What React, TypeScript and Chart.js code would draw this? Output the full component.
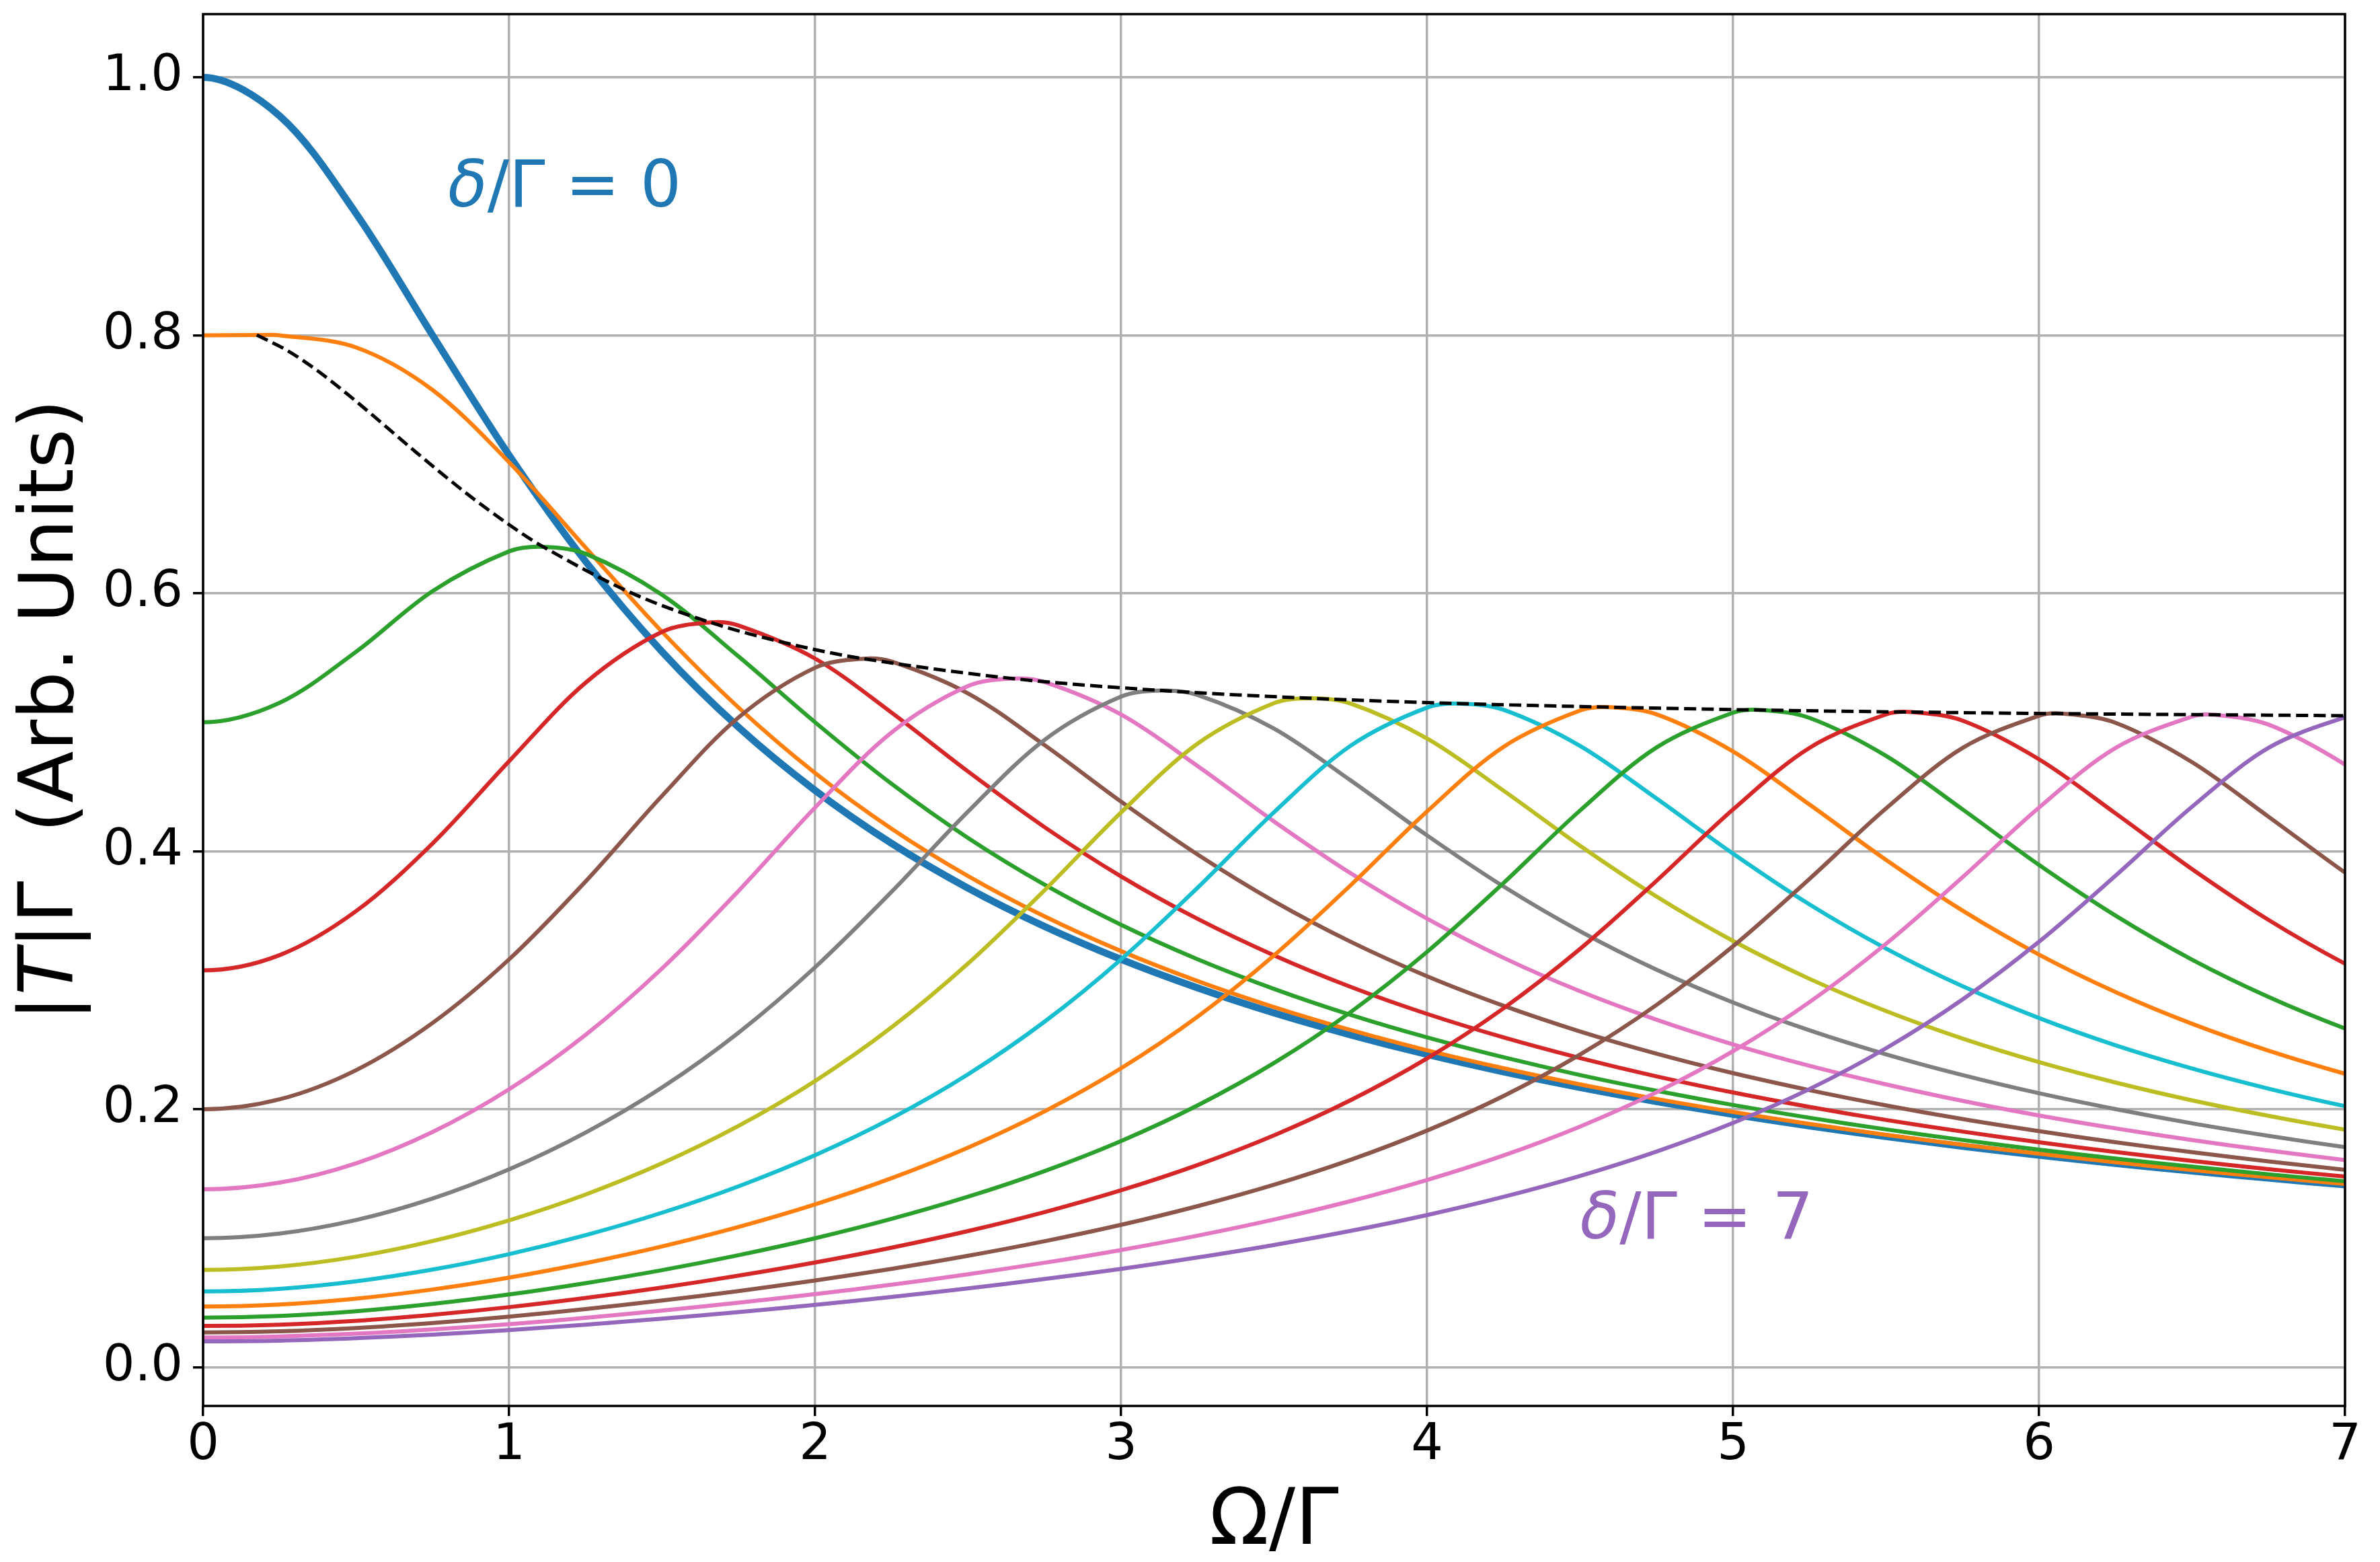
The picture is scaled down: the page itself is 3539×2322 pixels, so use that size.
import React, { useEffect, useRef } from "react";
import { Chart, registerables } from "chart.js";

Chart.register(...registerables);

const W = 3539;
const H = 2322;
const FONT = '"DejaVu Sans", "Liberation Sans", sans-serif';

// Ω/Γ sample grid (one step beyond each edge so the curves enter and leave the frame smoothly;
// the curves are even in Ω, so the -0.25 value equals the +0.25 value)
const OMEGA = [-0.25, 0, 0.25, 0.5, 0.75, 1, 1.25, 1.5, 1.75, 2, 2.25, 2.5, 2.75, 3, 3.25, 3.5, 3.75, 4, 4.25, 4.5, 4.75, 5, 5.25, 5.5, 5.75, 6, 6.25, 6.5, 6.75, 7, 7.25];

const X_TICKS = [0, 1, 2, 3, 4, 5, 6, 7];
const Y_TICKS = [0, 0.2, 0.4, 0.6, 0.8, 1.0];

// δ/Γ of each curve
const DELTAS = [0, 0.5, 1, 1.5, 2, 2.5, 3, 3.5, 4, 4.5, 5, 5.5, 6, 6.5, 7];
const COLORS = ["#1f77b4", "#ff7f0e", "#2ca02c", "#d62728", "#8c564b", "#e377c2", "#7f7f7f", "#bcbd22", "#17becf", "#ff7f0e", "#2ca02c", "#d62728", "#8c564b", "#e377c2", "#9467bd"];

// |T|Γ values on the OMEGA grid, one array per δ/Γ
const D0_0 = [0.9701, 1.0000, 0.9701, 0.8944, 0.8000, 0.7071, 0.6247, 0.5547, 0.4961, 0.4472, 0.4061, 0.3714, 0.3417, 0.3162, 0.2941, 0.2747, 0.2577, 0.2425, 0.2290, 0.2169, 0.2060, 0.1961, 0.1871, 0.1789, 0.1713, 0.1644, 0.1580, 0.1521, 0.1466, 0.1414, 0.1366];
const D0_5 = [0.8000, 0.8000, 0.8000, 0.7906, 0.7576, 0.7016, 0.6354, 0.5701, 0.5114, 0.4607, 0.4175, 0.3808, 0.3495, 0.3226, 0.2994, 0.2792, 0.2614, 0.2457, 0.2318, 0.2193, 0.2080, 0.1979, 0.1886, 0.1802, 0.1725, 0.1655, 0.1589, 0.1529, 0.1473, 0.1421, 0.1373];
const D1_0 = [0.5151, 0.5000, 0.5151, 0.5547, 0.6017, 0.6325, 0.6307, 0.5988, 0.5510, 0.5000, 0.4523, 0.4103, 0.3741, 0.3430, 0.3163, 0.2933, 0.2732, 0.2557, 0.2403, 0.2265, 0.2143, 0.2033, 0.1934, 0.1844, 0.1762, 0.1687, 0.1618, 0.1555, 0.1496, 0.1442, 0.1391];
const D1_5 = [0.3195, 0.3077, 0.3195, 0.3536, 0.4061, 0.4698, 0.5307, 0.5701, 0.5750, 0.5494, 0.5075, 0.4618, 0.4187, 0.3805, 0.3476, 0.3193, 0.2949, 0.2739, 0.2557, 0.2397, 0.2255, 0.2130, 0.2018, 0.1917, 0.1827, 0.1744, 0.1669, 0.1600, 0.1536, 0.1478, 0.1424];
const D2_0 = [0.2077, 0.2000, 0.2077, 0.2303, 0.2669, 0.3162, 0.3766, 0.4430, 0.5038, 0.5423, 0.5471, 0.5224, 0.4823, 0.4385, 0.3975, 0.3612, 0.3299, 0.3031, 0.2802, 0.2603, 0.2431, 0.2280, 0.2148, 0.2030, 0.1924, 0.1830, 0.1744, 0.1667, 0.1596, 0.1531, 0.1472];
const D2_5 = [0.1431, 0.1379, 0.1431, 0.1581, 0.1824, 0.2155, 0.2577, 0.3092, 0.3693, 0.4339, 0.4921, 0.5281, 0.5312, 0.5060, 0.4661, 0.4231, 0.3830, 0.3478, 0.3174, 0.2915, 0.2694, 0.2503, 0.2337, 0.2193, 0.2065, 0.1952, 0.1852, 0.1761, 0.1680, 0.1606, 0.1538];
const D3_0 = [0.1036, 0.1000, 0.1036, 0.1141, 0.1308, 0.1534, 0.1819, 0.2169, 0.2594, 0.3101, 0.3686, 0.4308, 0.4864, 0.5199, 0.5212, 0.4951, 0.4550, 0.4123, 0.3727, 0.3380, 0.3082, 0.2828, 0.2612, 0.2426, 0.2265, 0.2124, 0.2001, 0.1891, 0.1794, 0.1706, 0.1628];
const D3_5 = [0.0781, 0.0755, 0.0781, 0.0857, 0.0978, 0.1139, 0.1339, 0.1581, 0.1871, 0.2219, 0.2635, 0.3130, 0.3698, 0.4301, 0.4834, 0.5148, 0.5145, 0.4874, 0.4470, 0.4043, 0.3649, 0.3305, 0.3011, 0.2761, 0.2548, 0.2365, 0.2207, 0.2069, 0.1949, 0.1842, 0.1747];
const D4_0 = [0.0608, 0.0588, 0.0608, 0.0666, 0.0757, 0.0877, 0.1024, 0.1198, 0.1403, 0.1644, 0.1930, 0.2271, 0.2679, 0.3162, 0.3717, 0.4303, 0.4818, 0.5114, 0.5097, 0.4817, 0.4409, 0.3982, 0.3588, 0.3246, 0.2954, 0.2707, 0.2496, 0.2316, 0.2160, 0.2024, 0.1906];
const D4_5 = [0.0486, 0.0471, 0.0486, 0.0532, 0.0603, 0.0695, 0.0807, 0.0937, 0.1088, 0.1263, 0.1466, 0.1703, 0.1984, 0.2318, 0.2718, 0.3193, 0.3736, 0.4309, 0.4810, 0.5091, 0.5062, 0.4774, 0.4362, 0.3933, 0.3540, 0.3199, 0.2909, 0.2663, 0.2454, 0.2275, 0.2121];
const D5_0 = [0.0397, 0.0385, 0.0397, 0.0434, 0.0491, 0.0564, 0.0652, 0.0753, 0.0869, 0.1000, 0.1150, 0.1322, 0.1521, 0.1754, 0.2030, 0.2359, 0.2753, 0.3220, 0.3754, 0.4316, 0.4805, 0.5074, 0.5034, 0.4740, 0.4325, 0.3894, 0.3501, 0.3160, 0.2871, 0.2626, 0.2418];
const D5_5 = [0.0330, 0.0320, 0.0330, 0.0360, 0.0407, 0.0466, 0.0537, 0.0618, 0.0710, 0.0812, 0.0927, 0.1056, 0.1203, 0.1372, 0.1568, 0.1798, 0.2070, 0.2394, 0.2783, 0.3243, 0.3771, 0.4324, 0.4802, 0.5061, 0.5013, 0.4713, 0.4294, 0.3862, 0.3468, 0.3128, 0.2839];
const D6_0 = [0.0279, 0.0270, 0.0279, 0.0304, 0.0343, 0.0392, 0.0451, 0.0517, 0.0591, 0.0673, 0.0763, 0.0864, 0.0977, 0.1104, 0.1249, 0.1415, 0.1608, 0.1835, 0.2103, 0.2424, 0.2809, 0.3264, 0.3786, 0.4332, 0.4801, 0.5051, 0.4996, 0.4691, 0.4268, 0.3835, 0.3441];
const D6_5 = [0.0239, 0.0231, 0.0239, 0.0260, 0.0293, 0.0334, 0.0383, 0.0439, 0.0500, 0.0567, 0.0640, 0.0721, 0.0810, 0.0909, 0.1020, 0.1145, 0.1288, 0.1452, 0.1642, 0.1866, 0.2132, 0.2450, 0.2831, 0.3283, 0.3799, 0.4339, 0.4801, 0.5044, 0.4982, 0.4672, 0.4247];
const D7_0 = [0.0206, 0.0200, 0.0206, 0.0225, 0.0253, 0.0288, 0.0330, 0.0377, 0.0428, 0.0484, 0.0545, 0.0611, 0.0684, 0.0763, 0.0851, 0.0948, 0.1057, 0.1180, 0.1321, 0.1483, 0.1672, 0.1894, 0.2157, 0.2473, 0.2851, 0.3299, 0.3811, 0.4345, 0.4802, 0.5038, 0.4970];

const SERIES = [D0_0, D0_5, D1_0, D1_5, D2_0, D2_5, D3_0, D3_5, D4_0, D4_5, D5_0, D5_5, D6_0, D6_5, D7_0];

// peak positions (dashed envelope)
const PEAK_DELTA = [0.5, 0.52, 0.55, 0.6, 0.7, 0.8, 0.9, 1, 1.25, 1.5, 1.75, 2, 2.5, 3, 3.5, 4, 4.5, 5, 5.5, 6, 6.5, 7];
const PEAK_OMEGA = [0.1754, 0.2731, 0.3753, 0.5028, 0.6952, 0.8504, 0.9868, 1.1118, 1.3958, 1.6583, 1.9107, 2.158, 2.6465, 3.1332, 3.6206, 4.1096, 4.6, 5.0917, 5.5846, 6.0784, 6.5731, 7.0683];
const PEAK_VALUE = [0.8002, 0.7885, 0.7723, 0.7483, 0.7095, 0.6794, 0.6554, 0.636, 0.6007, 0.5774, 0.5611, 0.5493, 0.5339, 0.5246, 0.5186, 0.5145, 0.5117, 0.5095, 0.5079, 0.5067, 0.5058, 0.505];

type Pt = { x: number; y: number };

function seriesPoints(i: number): Pt[] {
  const vals = SERIES[i];
  const pts: Pt[] = OMEGA.map((x, k) => ({ x, y: vals[k] }));
  const pi = PEAK_DELTA.indexOf(DELTAS[i]);
  if (pi >= 0) pts.push({ x: PEAK_OMEGA[pi], y: PEAK_VALUE[pi] });
  pts.sort((a, b) => a.x - b.x);
  return pts;
}

type Seg = { t: string; it?: boolean };

function drawRich(ctx: CanvasRenderingContext2D, segs: Seg[], x: number, y: number, size: number, align: "left" | "center", color: string) {
  const fontOf = (s: Seg) => `${s.it ? "italic " : ""}${size}px ${FONT}`;
  let total = 0;
  const widths = segs.map((s) => {
    ctx.font = fontOf(s);
    const w = ctx.measureText(s.t).width;
    total += w;
    return w;
  });
  let cx = align === "center" ? x - total / 2 : x;
  ctx.fillStyle = color;
  ctx.textAlign = "left";
  ctx.textBaseline = "alphabetic";
  segs.forEach((s, k) => {
    ctx.font = fontOf(s);
    ctx.fillText(s.t, cx, y);
    cx += widths[k];
  });
}

const decorPlugin = {
  id: "decor",
  afterDatasetsDraw(chart: any) {
    const { ctx, chartArea, scales } = chart;
    const xs = scales.x;
    const ys = scales.y;
    ctx.save();
    // spines
    ctx.strokeStyle = "#000";
    ctx.lineWidth = 3.5;
    ctx.strokeRect(chartArea.left, chartArea.top, chartArea.right - chartArea.left, chartArea.bottom - chartArea.top);
    // annotations
    drawRich(ctx, [{ t: "δ", it: true }, { t: "/Γ = 0" }], xs.getPixelForValue(0.8), ys.getPixelForValue(0.9), 96, "left", "#1f77b4");
    drawRich(ctx, [{ t: "δ", it: true }, { t: "/Γ = 7" }], xs.getPixelForValue(4.5), ys.getPixelForValue(0.1), 96, "left", "#9467bd");
    // x title
    drawRich(ctx, [{ t: "Ω/Γ" }], (chartArea.left + chartArea.right) / 2, 2295, 116, "center", "#000");
    // y title
    ctx.translate(108, (chartArea.top + chartArea.bottom) / 2);
    ctx.rotate(-Math.PI / 2);
    drawRich(ctx, [{ t: "|" }, { t: "T", it: true }, { t: "|Γ  (Arb. Units)" }], 0, 0, 113, "center", "#000");
    ctx.restore();
  },
};

export default function App() {
  const ref = useRef<HTMLCanvasElement | null>(null);
  useEffect(() => {
    if (!ref.current) return;
    const datasets: any[] = SERIES.map((_, i) => ({
      label: `δ/Γ = ${DELTAS[i]}`,
      data: seriesPoints(i),
      borderColor: COLORS[i],
      backgroundColor: COLORS[i],
      borderWidth: i === 0 ? 10.5 : 6,
      pointRadius: 0,
      fill: false,
      tension: 0.33,
      clip: 0,
      order: 100 - i,
    }));
    datasets.push({
      label: "peaks",
      data: PEAK_OMEGA.map((x, k) => ({ x, y: PEAK_VALUE[k] })),
      borderColor: "#000",
      backgroundColor: "#000",
      borderWidth: 5,
      borderDash: [18, 8],
      pointRadius: 0,
      fill: false,
      tension: 0.33,
      clip: 0,
      order: 0,
    });
    const chart = new Chart(ref.current, {
      type: "line",
      data: { datasets },
      plugins: [decorPlugin],
      options: {
        animation: false,
        responsive: false,
        devicePixelRatio: 1,
        events: [],
        layout: { padding: { left: 0, top: 21, right: 52, bottom: 0 } },
        plugins: { legend: { display: false }, tooltip: { enabled: false }, title: { display: false } },
        scales: {
          x: {
            type: "linear",
            min: 0,
            max: 7,
            afterBuildTicks: (s: any) => { s.ticks = X_TICKS.map((v) => ({ value: v })); },
            afterFit: (s: any) => { s.height = 232; s.paddingLeft = 0; s.paddingRight = 0; },
            ticks: { font: { family: FONT, size: 75 }, color: "#000", padding: 0, maxRotation: 0, autoSkip: false, callback: (v: any) => String(v) },
            grid: { color: "#b0b0b0", lineWidth: 3.5, tickColor: "#000", tickLength: 15, tickWidth: 3.5 },
            border: { display: false },
          },
          y: {
            type: "linear",
            min: -0.03,
            max: 1.049,
            afterBuildTicks: (s: any) => { s.ticks = Y_TICKS.map((v) => ({ value: v })); },
            afterFit: (s: any) => { s.width = 302; s.paddingTop = 0; s.paddingBottom = 0; },
            ticks: { font: { family: FONT, size: 75 }, color: "#000", padding: 15, autoSkip: false, callback: (v: any) => Number(v).toFixed(1) },
            grid: { color: "#b0b0b0", lineWidth: 3.5, tickColor: "#000", tickLength: 15, tickWidth: 3.5 },
            border: { display: false },
          },
        },
      } as any,
    });
    return () => chart.destroy();
  }, []);
  return (
    <div style={{ position: "absolute", left: 0, top: 0, width: W, height: H, background: "#fff" }}>
      <canvas ref={ref} width={W} height={H} style={{ width: W, height: H, display: "block" }} />
    </div>
  );
}
